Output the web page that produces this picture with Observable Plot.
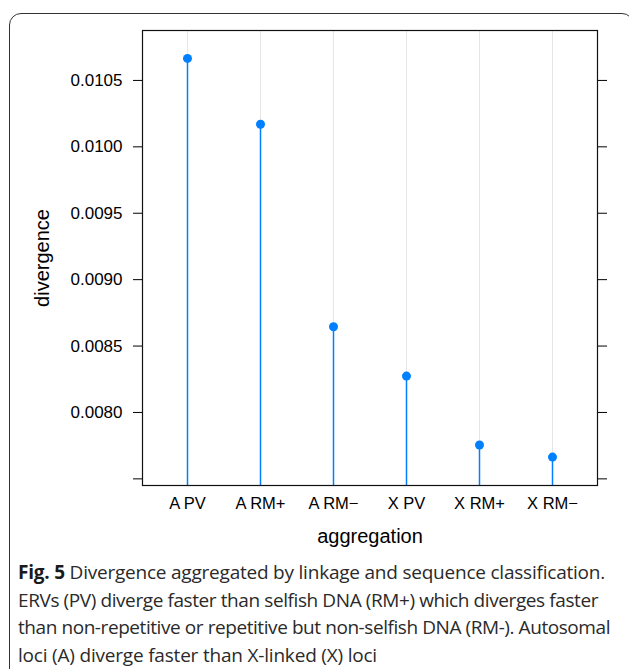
<!DOCTYPE html>
<html>
<head>
<meta charset="utf-8">
<script src="https://cdn.jsdelivr.net/npm/d3@7"></script>
<script src="https://cdn.jsdelivr.net/npm/@observablehq/plot@0.6"></script>
<style>
  html, body { margin: 0; padding: 0; background: #fff; }
  #wrap { position: relative; width: 629px; height: 669px; overflow: hidden; }
  #border { position: absolute; left: 9px; top: 13px; width: 625px; height: 720px;
            border: 1.5px solid #333; border-radius: 12px; box-sizing: border-box; }
  #chart { position: absolute; left: 0; top: 0; }
  #caption { position: absolute; left: 18px; top: 559px; width: 610px;
             font-family: "Open Sans", sans-serif; font-size: 19px; line-height: 27.5px;
             color: #2a2a2a; white-space: nowrap; }
  #caption span.line { display: inline-block; }
  #caption b { font-weight: 700; color: #1a1a1a; }
</style>
</head>
<body>
<div id="wrap">
  <div id="border"></div>
  <div id="chart"></div>
  <div id="caption">
    <div><span class="line" data-w="587"><b>Fig. 5</b> Divergence aggregated by linkage and sequence classification.</span></div>
    <div><span class="line" data-w="580">ERVs (PV) diverge faster than selfish DNA (RM+) which diverges faster</span></div>
    <div><span class="line" data-w="592">than non-repetitive or repetitive but non-selfish DNA (RM-). Autosomal</span></div>
    <div><span class="line" data-w="359">loci (A) diverge faster than X-linked (X) loci</span></div>
  </div>
</div>
<script>
const categories = ["A PV", "A RM+", "A RM\u2212", "X PV", "X RM+", "X RM\u2212"];
const divergence = [0.010666, 0.01017, 0.008645, 0.008274, 0.007755, 0.007664];
const yTicks = [0.0075, 0.0080, 0.0085, 0.0090, 0.0095, 0.0100, 0.0105];
const yTickLabels = ["", "0.0080", "0.0085", "0.0090", "0.0095", "0.0100", "0.0105"];
const yDomain = [0.00745, 0.010876];
const xLabel = "aggregation";
const yLabel = "divergence";

const data = categories.map((c, i) => ({cat: c, value: divergence[i]}));
const blue = "#0080ff";

const chart = Plot.plot({
  width: 629,
  height: 560,
  marginLeft: 142,
  marginRight: 32,
  marginTop: 30,
  marginBottom: 75,
  style: {fontFamily: "'Liberation Sans', Arial, sans-serif", fontSize: "16.5px", background: "transparent", color: "#000"},
  x: {type: "point", domain: categories, padding: 0.6, label: null},
  y: {domain: yDomain, label: null},
  marks: [
    Plot.ruleX(categories, {stroke: "#e6e6e6", strokeWidth: 1}),
    Plot.ruleX(data, {x: "cat", y1: yDomain[0], y2: "value", stroke: blue, strokeWidth: 1.5}),
    Plot.dot(data, {x: "cat", y: "value", r: 4.5, fill: blue, stroke: null}),
    Plot.frame({stroke: "#111", strokeWidth: 1.2}),
    Plot.axisY({anchor: "left", ticks: yTicks, tickSize: 9, tickPadding: 11,
      tickFormat: (d) => yTickLabels[yTicks.findIndex(t => Math.abs(t - d) < 1e-9)], label: null, fontSize: 17}),
    Plot.axisY({anchor: "right", ticks: yTicks, tickSize: 9, tickFormat: () => "", label: null}),
    Plot.axisX({anchor: "bottom", tickSize: 0, tickPadding: 12, label: null, fontSize: 16.5}),
    Plot.text([yLabel], {frameAnchor: "left", textAnchor: "middle", dx: -100, rotate: -90, fontSize: 20, fill: "#000"}),
    Plot.text([xLabel], {frameAnchor: "bottom", dy: 57, fontSize: 20, fill: "#000"})
  ]
});
document.getElementById("chart").appendChild(chart);

function fitCaption() {
  document.querySelectorAll("#caption span.line").forEach(el => {
    el.style.letterSpacing = "0px";
    const target = +el.dataset.w;
    const natural = el.getBoundingClientRect().width;
    const n = el.textContent.length;
    el.style.letterSpacing = ((target - natural) / n).toFixed(3) + "px";
  });
}
fitCaption();
if (document.fonts && document.fonts.ready) document.fonts.ready.then(fitCaption);
</script>
</body>
</html>
